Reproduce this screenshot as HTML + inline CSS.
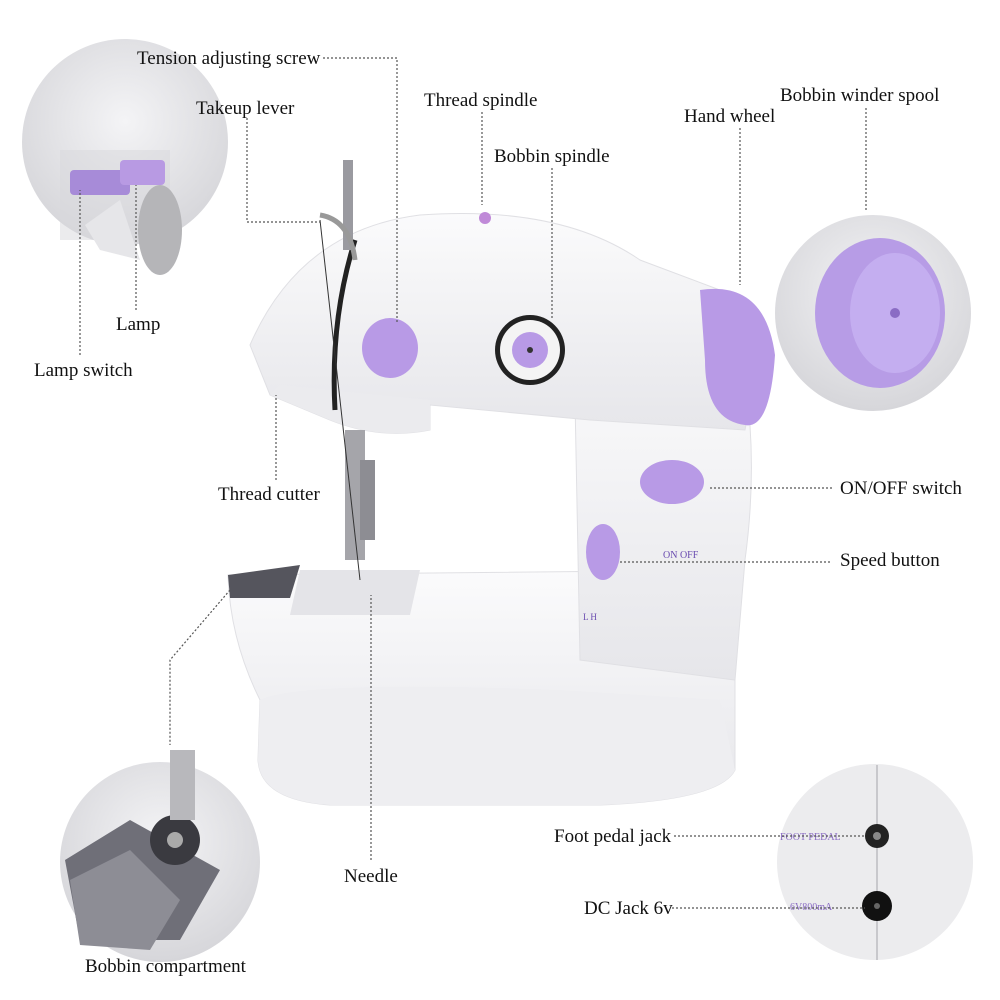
<!DOCTYPE html>
<html><head><meta charset="utf-8"><style>
html,body{margin:0;padding:0;background:#fff}
svg{display:block}
text{font-family:"Liberation Serif",serif;font-size:19px;fill:#111}
.d{stroke:#555;stroke-width:1.2;stroke-dasharray:2 2;fill:none}
</style></head><body>
<svg width="1000" height="1000" viewBox="0 0 1000 1000" xmlns="http://www.w3.org/2000/svg">
<defs>
<radialGradient id="g1" cx="50%" cy="40%" r="60%"><stop offset="0" stop-color="#f4f4f6"/><stop offset="1" stop-color="#d6d6da"/></radialGradient>
<linearGradient id="body" x1="0" y1="0" x2="0" y2="1"><stop offset="0" stop-color="#fbfbfc"/><stop offset="1" stop-color="#e6e6ea"/></linearGradient>
</defs>
<circle cx="125" cy="142" r="103" fill="url(#g1)"/>
<rect x="60" y="150" width="110" height="90" fill="#d8d8dc" opacity="0.5"/>
<path d="M85 225 L120 200 L140 260 L100 250 Z" fill="#e6e6e9"/>
<rect x="70" y="170" width="60" height="25" rx="4" fill="#a78bd8"/>
<rect x="120" y="160" width="45" height="25" rx="4" fill="#b89ae3"/>
<ellipse cx="160" cy="230" rx="22" ry="45" fill="#b5b5b8"/>
<circle cx="873" cy="313" r="98" fill="url(#g1)"/>
<ellipse cx="880" cy="313" rx="65" ry="75" fill="#b79ce6"/>
<ellipse cx="895" cy="313" rx="45" ry="60" fill="#c4aef0"/>
<circle cx="895" cy="313" r="5" fill="#8a6cc4"/>
<circle cx="160" cy="862" r="100" fill="url(#g1)"/>
<path d="M65 860 L130 820 L220 870 L180 940 L80 940 Z" fill="#6f6f78"/>
<path d="M70 880 L130 850 L180 900 L150 950 L80 945 Z" fill="#8d8d95"/>
<circle cx="175" cy="840" r="25" fill="#3a3a40"/><circle cx="175" cy="840" r="8" fill="#aaa"/>
<rect x="170" y="750" width="25" height="70" fill="#b8b8bc"/>
<circle cx="875" cy="862" r="98" fill="#ececee"/>
<line x1="877" y1="765" x2="877" y2="960" stroke="#c8c8cc" stroke-width="2"/>
<circle cx="877" cy="836" r="12" fill="#222"/><circle cx="877" cy="836" r="4" fill="#888"/>
<circle cx="877" cy="906" r="15" fill="#111"/><circle cx="877" cy="906" r="3" fill="#666"/>
<text x="780" y="840" style="font-size:10px;fill:#8a6cc4">FOOT PEDAL</text>
<text x="790" y="910" style="font-size:10px;fill:#8a6cc4">6V800mA</text>
<path d="M228 575 L735 570 L735 770 Q720 800 600 805 L330 805 Q260 800 258 760 L260 700 Q230 640 228 575 Z" fill="url(#body)" stroke="#e0e0e4"/>
<path d="M260 700 Q300 680 560 690 L720 700 L735 770 Q720 800 600 805 L330 805 Q260 800 258 760 Z" fill="#eeeef1"/>
<path d="M228 575 L300 565 L290 598 L230 598 Z" fill="#55555d"/>
<path d="M300 570 L420 570 L410 615 L290 615 Z" fill="#e4e4e8"/>
<path d="M575 400 L740 350 Q760 450 745 560 L735 680 L580 660 Z" fill="url(#body)" stroke="#e0e0e4"/>
<path d="M250 345 Q300 230 420 215 Q560 205 640 260 L720 290 L760 350 L745 430 L590 420 L430 405 L430 430 Q380 440 330 420 L270 395 Z" fill="url(#body)" stroke="#e0e0e4"/>
<path d="M270 395 L330 420 Q380 440 430 430 L430 400 L280 385 Z" fill="#ebebee"/>
<path d="M355 240 Q330 320 335 410" stroke="#222" stroke-width="5" fill="none"/>
<rect x="343" y="160" width="10" height="90" fill="#9a9aa0"/>
<path d="M320 215 Q350 220 355 260" stroke="#999" stroke-width="5" fill="none"/>
<rect x="345" y="430" width="20" height="130" fill="#a5a5aa"/>
<rect x="360" y="460" width="15" height="80" fill="#8d8d93"/>
<line x1="320" y1="220" x2="360" y2="580" stroke="#333" stroke-width="1"/>
<ellipse cx="390" cy="348" rx="28" ry="30" fill="#b89ae6"/>
<circle cx="530" cy="350" r="35" fill="#222"/><circle cx="530" cy="350" r="30" fill="#f4f4f4"/>
<circle cx="530" cy="350" r="18" fill="#b89ae6"/><circle cx="530" cy="350" r="3" fill="#333"/>
<path d="M700 290 Q765 280 775 355 Q770 430 745 425 Q705 420 705 360 Z" fill="#b89ae6"/>
<ellipse cx="672" cy="482" rx="32" ry="22" fill="#b89ae6"/>
<ellipse cx="603" cy="552" rx="17" ry="28" fill="#b89ae6"/>
<circle cx="485" cy="218" r="6" fill="#c08ad8"/>
<text x="663" y="558" style="font-size:10px;fill:#6a4cb0">ON  OFF</text>
<text x="583" y="620" style="font-size:9px;fill:#6a4cb0">L  H</text>
<path class="d" d="M323 58 H397 V322"/>
<path class="d" d="M247 118 V222 H320"/>
<path class="d" d="M482 112 V205"/>
<path class="d" d="M552 168 V320"/>
<path class="d" d="M740 128 V285"/>
<path class="d" d="M866 108 V210"/>
<path class="d" d="M136 310 V185"/>
<path class="d" d="M80 355 V190"/>
<path class="d" d="M276 480 V395"/>
<path class="d" d="M710 488 H832"/>
<path class="d" d="M620 562 H832"/>
<path class="d" d="M371 860 V595"/>
<path class="d" d="M230 590 L170 660 V745"/>
<path class="d" d="M674 836 H865"/>
<path class="d" d="M672 908 H865"/>
<text x="137" y="64">Tension adjusting screw</text>
<text x="196" y="114">Takeup lever</text>
<text x="424" y="106">Thread spindle</text>
<text x="494" y="162">Bobbin spindle</text>
<text x="684" y="122">Hand wheel</text>
<text x="780" y="101">Bobbin winder spool</text>
<text x="116" y="330">Lamp</text>
<text x="34" y="376">Lamp switch</text>
<text x="218" y="500">Thread cutter</text>
<text x="840" y="494">ON/OFF switch</text>
<text x="840" y="566">Speed button</text>
<text x="344" y="882">Needle</text>
<text x="85" y="972">Bobbin compartment</text>
<text x="554" y="842">Foot pedal jack</text>
<text x="584" y="914">DC Jack 6v</text>
</svg>
</body></html>
